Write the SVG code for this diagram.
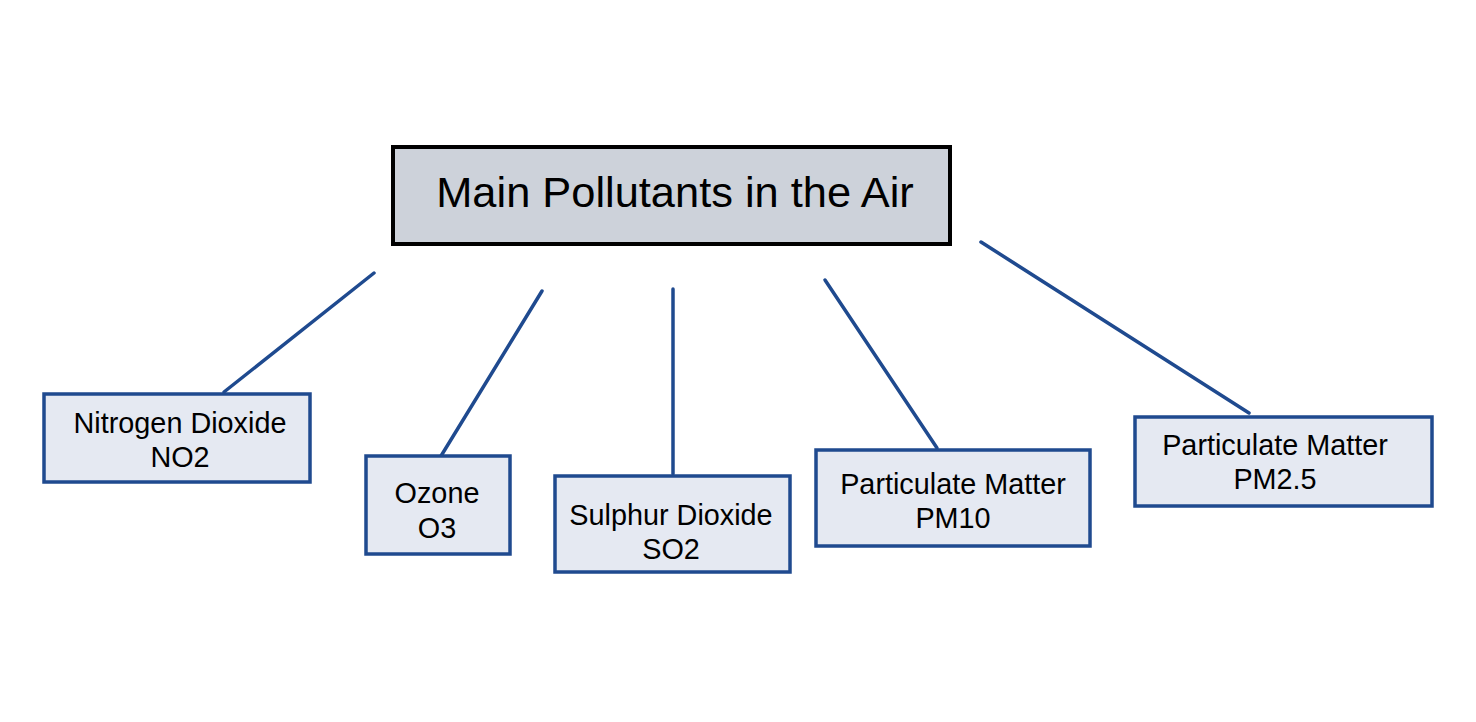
<svg xmlns="http://www.w3.org/2000/svg" width="1476" height="722" viewBox="0 0 1476 722">
<style>
.leaf{fill:#e5e9f2;stroke:#1f4a8f;stroke-width:3.5}
.root{fill:#cdd2da;stroke:#000;stroke-width:4}
.t{font-family:"Liberation Sans",Arial,sans-serif;font-size:28.8px;fill:#000;text-anchor:middle}
.tt{font-family:"Liberation Sans",Arial,sans-serif;font-size:43.4px;fill:#000;text-anchor:middle}
.c{stroke:#1f4a8f;stroke-width:3.5;fill:none;stroke-linecap:round}
</style>
<rect width="1476" height="722" fill="#fff"/>
<g id="connectors">
<line class="c" x1="374" y1="273" x2="224" y2="392"/>
<line class="c" x1="542" y1="291" x2="441" y2="456"/>
<line class="c" x1="673" y1="289" x2="673" y2="474"/>
<line class="c" x1="825" y1="280" x2="937" y2="448"/>
<line class="c" x1="981" y1="242" x2="1249" y2="413"/>
</g>
<g id="root">
<rect class="root" x="393" y="147" width="557" height="97"/>
<text class="tt" x="675" y="207">Main Pollutants in the Air</text>
</g>
<g id="no2">
<rect class="leaf" x="44" y="394" width="266" height="88"/>
<text class="t" x="180" y="433">Nitrogen Dioxide</text>
<text class="t" x="180" y="467">NO2</text>
</g>
<g id="o3">
<rect class="leaf" x="366" y="456" width="144" height="98"/>
<text class="t" x="437" y="503">Ozone</text>
<text class="t" x="437" y="538">O3</text>
</g>
<g id="so2">
<rect class="leaf" x="555" y="476" width="235" height="96"/>
<text class="t" x="671" y="525">Sulphur Dioxide</text>
<text class="t" x="671" y="559">SO2</text>
</g>
<g id="pm10">
<rect class="leaf" x="816" y="450" width="274" height="96"/>
<text class="t" x="953" y="494">Particulate Matter</text>
<text class="t" x="953" y="528">PM10</text>
</g>
<g id="pm25">
<rect class="leaf" x="1135" y="417" width="297" height="89"/>
<text class="t" x="1275" y="455">Particulate Matter</text>
<text class="t" x="1275" y="489">PM2.5</text>
</g>
</svg>
